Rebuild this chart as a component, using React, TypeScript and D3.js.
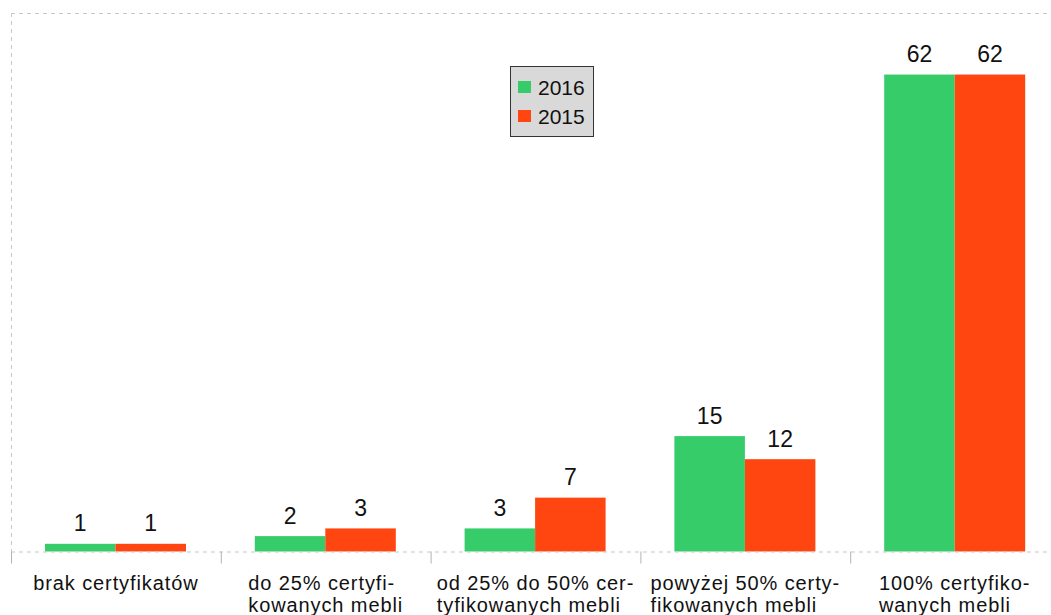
import React, { useEffect, useRef } from "react";
import * as d3 from "d3";

const categories: string[][] = [
  ["brak certyfikatów"],
  ["do 25% certyfi-", "kowanych mebli"],
  ["od 25% do 50% cer-", "tyfikowanych mebli"],
  ["powyżej 50% certy-", "fikowanych mebli"],
  ["100% certyfiko-", "wanych mebli"],
];
const seriesNames = ["2016", "2015"];
const values2016 = [1, 2, 3, 15, 62];
const values2015 = [1, 3, 7, 12, 62];
const colors = ["#35cc69", "#ff4611"];

const W = 1051;
const H = 615;
const FONT = "'Liberation Sans', Arial, sans-serif";

export default function App() {
  const ref = useRef<SVGSVGElement>(null);

  useEffect(() => {
    const svg = d3.select(ref.current);
    svg.selectAll("*").remove();

    const left = 11;
    const top = 13;
    const step = 209.8;
    const bottom = 551.5;
    const right = left + step * categories.length;

    const x = d3
      .scaleBand<number>()
      .domain(d3.range(categories.length))
      .range([left, right])
      .paddingInner(0)
      .paddingOuter(0);
    const inner = d3
      .scaleBand<number>()
      .domain([0, 1])
      .range([34, 34 + 141])
      .padding(0);
    const y = d3.scaleLinear().domain([0, 70]).range([bottom, top]);

    const g = svg.append("g");

    g.append("line")
      .attr("x1", left).attr("x2", W).attr("y1", top + 0.5).attr("y2", top + 0.5)
      .attr("stroke", "#c8c8c8").attr("stroke-dasharray", "4,4");
    g.append("line")
      .attr("x1", left + 0.5).attr("x2", left + 0.5).attr("y1", top).attr("y2", bottom)
      .attr("stroke", "#c8c8c8").attr("stroke-dasharray", "4,4");

    const series = [values2016, values2015];

    series.forEach((vals, si) => {
      g.selectAll(null)
        .data(vals)
        .enter()
        .append("rect")
        .attr("x", (_d, i) => (x(i) as number) + (inner(si) as number))
        .attr("y", (d) => y(d))
        .attr("width", inner.bandwidth())
        .attr("height", (d) => bottom - y(d))
        .attr("fill", colors[si]);

      g.selectAll(null)
        .data(vals)
        .enter()
        .append("text")
        .attr("x", (_d, i) => (x(i) as number) + (inner(si) as number) + inner.bandwidth() / 2)
        .attr("y", (d) => y(d) - 12.5)
        .attr("text-anchor", "middle")
        .attr("font-family", FONT)
        .attr("font-size", 23)
        .attr("fill", "#111")
        .text((d) => String(d));
    });

    g.append("line")
      .attr("x1", left).attr("x2", W).attr("y1", bottom + 0.5).attr("y2", bottom + 0.5)
      .attr("stroke", "#c8c8c8").attr("stroke-width", 1.2).attr("stroke-dasharray", "4,4");

    g.selectAll(null)
      .data(d3.range(categories.length + 1))
      .enter()
      .append("line")
      .attr("x1", (i) => left + step * i + 0.5)
      .attr("x2", (i) => left + step * i + 0.5)
      .attr("y1", bottom)
      .attr("y2", bottom + 12)
      .attr("stroke", "#b3b3b3");

    categories.forEach((lines, i) => {
      const t = g.append("text")
        .attr("font-family", FONT)
        .attr("font-size", 20)
        .attr("letter-spacing", 0.9)
        .attr("fill", "#111");
      lines.forEach((ln, li) => {
        t.append("tspan").attr("x", 0).attr("y", 590 + li * 22).text(ln);
      });
      const w = (t.node() as SVGTextElement).getBBox().width;
      const catLeft = x(i) as number;
      const center = catLeft + step / 2;
      const lx = Math.max(catLeft + 4, center - w / 2);
      t.selectAll("tspan").attr("x", lx);
    });

    const lg = svg.append("g");
    lg.append("rect")
      .attr("x", 510.5).attr("y", 66.5).attr("width", 83).attr("height", 70)
      .attr("fill", "#d9d9d9").attr("stroke", "#333").attr("stroke-width", 1);
    seriesNames.forEach((name, i) => {
      lg.append("rect")
        .attr("x", 518).attr("y", 81 + i * 29).attr("width", 13).attr("height", 12)
        .attr("fill", colors[i]);
      lg.append("text")
        .attr("x", 538).attr("y", 95 + i * 29)
        .attr("font-family", FONT).attr("font-size", 21).attr("fill", "#111")
        .text(name);
    });
  }, []);

  return (
    <svg
      ref={ref}
      width={W}
      height={H}
      style={{ position: "absolute", left: 0, top: 0, background: "#fff" }}
    />
  );
}
